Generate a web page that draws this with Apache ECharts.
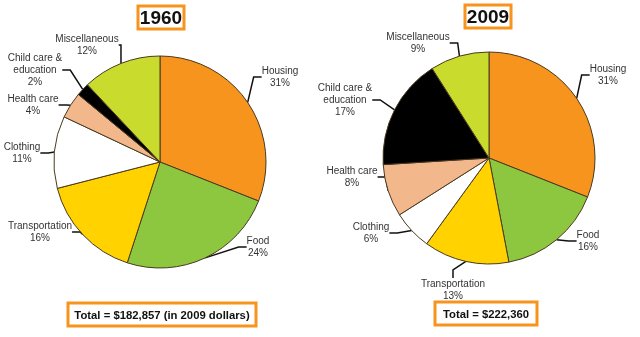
<!DOCTYPE html>
<html><head><meta charset="utf-8">
<script src="https://cdn.jsdelivr.net/npm/echarts@6/dist/echarts.min.js"></script>
<style>html,body{margin:0;padding:0;background:#fff}#c{width:640px;height:337px}</style>
</head><body><div id="c"></div>
<script>
var categories = ['Housing','Food','Transportation','Clothing','Health care','Child care &\neducation','Miscellaneous'];
var values1960 = [31,24,16,11,4,2,12];
var values2009 = [31,16,13,6,8,17,9];
var years = ['1960','2009'];
var totals = ['Total = $182,857 (in 2009 dollars)','Total = $222,360'];
var colors = ['#F7941D','#8DC63F','#FFD200','#FFFFFF','#F2B78A','#000000','#C9DC2E'];

// label anchor positions (text centers), layout only
var labelPos1960 = [[280,77],[258,247],[40,232],[22,153],[33,105],[35,70],[87,45]];
var labelPos2009 = [[608,75],[588,241],[453,290],[371,233],[352,177],[345,100],[418,43]];

function mkData(vals){
  return categories.map(function(n,i){return {name:n,value:vals[i],itemStyle:{color:colors[i]}};});
}
function mkSeries(vals, center, pos){
  return {
    type:'pie', center:center, radius:106, startAngle:90, clockwise:true,
    animation:false, silent:true,
    data:mkData(vals),
    itemStyle:{borderColor:'#4a3a20',borderWidth:1},
    label:{show:true,formatter:'{b}\n{c}%',fontFamily:'Liberation Sans, Arial',fontSize:10,color:'#333',lineHeight:12,align:'center',overflow:'none',bleedMargin:-600},
    labelLine:{show:true,length:8,length2:8,lineStyle:{color:'#111',width:1.5}},
    labelLayout:function(p){
      var q=pos[p.dataIndex];
      return {x:q[0],y:q[1],align:'center',verticalAlign:'middle'};
    }
  };
}
var chart = echarts.init(document.getElementById('c'),null,{renderer:'canvas'});
function box(x,y,w,h,text,fs){
  return {type:'group',children:[
    {type:'rect',shape:{x:x,y:y,width:w,height:h},style:{fill:'#fff',stroke:'#F7941D',lineWidth:3}},
    {type:'text',x:x+w/2,y:y+h/2+1,style:{text:text,font:'bold '+fs+'px Liberation Sans, Arial',fill:'#111',textAlign:'center',textVerticalAlign:'middle'}}
  ]};
}
chart.setOption({
  backgroundColor:'#fff',
  graphic:[
    box(138,6,46,23,years[0],19),
    box(465,5,46,23,years[1],19),
    box(68,303,188,23,totals[0],11.3),
    box(435,302,102,23,totals[1],11.3)
  ],
  series:[
    mkSeries(values1960,[160,162],labelPos1960),
    mkSeries(values2009,[489,158],labelPos2009)
  ]
});
</script></body></html>
